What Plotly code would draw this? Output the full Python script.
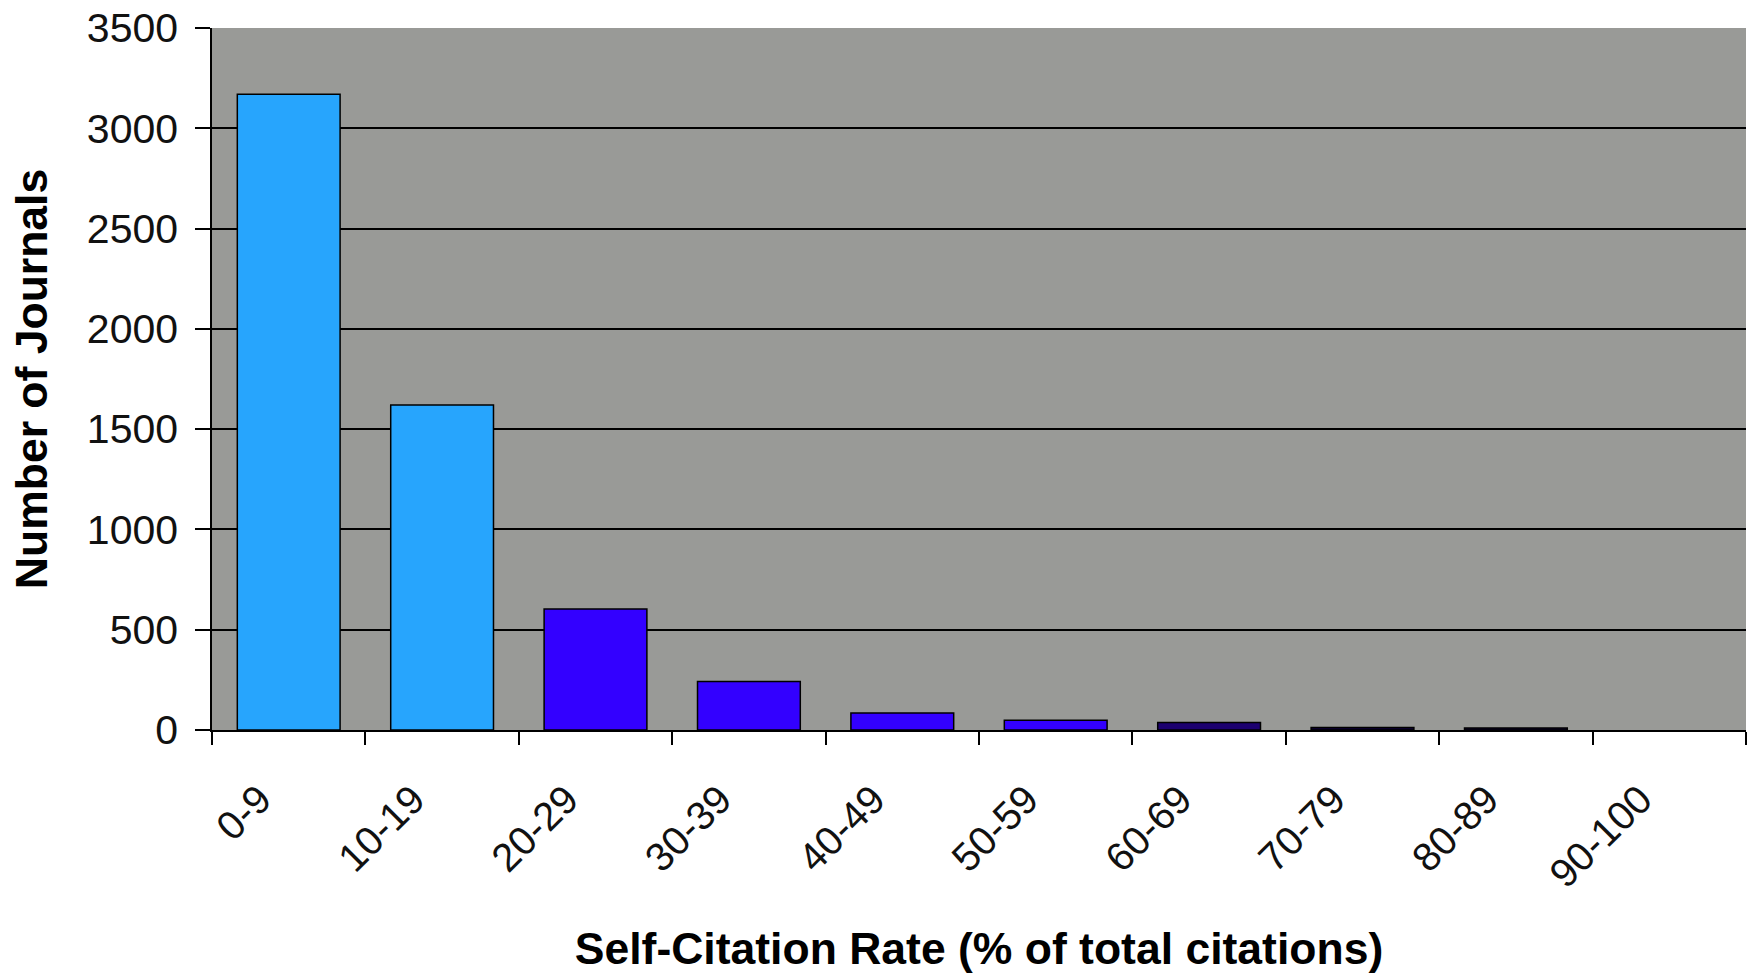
import plotly.graph_objects as go

categories = ["0-9", "10-19", "20-29", "30-39", "40-49", "50-59", "60-69", "70-79", "80-89", "90-100"]
journals = [3170, 1620, 603, 242, 85, 48, 37, 12, 10, 0]
bar_colors = ["#27A5FD", "#27A5FD", "#3300FF", "#3300FF", "#3300FF", "#3300FF",
              "#1C0070", "#0E0038", "#0E0038", "#0E0038"]
y_ticks = [0, 500, 1000, 1500, 2000, 2500, 3000, 3500]

FONT = "Liberation Sans, Arial, sans-serif"

fig = go.Figure()
fig.add_trace(go.Bar(
    x=categories, y=journals,
    marker=dict(color=bar_colors,
                line=dict(color="black", width=[1.5] * 9 + [0])),
    width=0.67,
))

fig.update_layout(
    width=1747, height=973,
    margin=dict(l=212, r=1, t=28, b=243),
    paper_bgcolor="white",
    plot_bgcolor="#999A97",
    showlegend=False,
    font=dict(family=FONT, color="black"),
)
fig.update_xaxes(
    type="category",
    range=[-0.5, 9.5],
    tickson="boundaries",
    ticks="outside", ticklen=13, tickwidth=1.5, tickcolor="black",
    tickangle=-45,
    tickfont=dict(size=40, family=FONT, color="#111"),
    showline=True, linecolor="black", linewidth=1.5,
    showgrid=False,
    title=dict(text="<b>Self-Citation Rate (% of total citations)</b>",
               font=dict(size=44.5, family=FONT, color="black"), standoff=39),
    ticklabelstandoff=28,
    ticklabelshift=-29,
    automargin=False,
)
fig.update_yaxes(
    range=[0, 3500],
    tickvals=y_ticks,
    ticks="outside", ticklen=15, tickwidth=1.5, tickcolor="black",
    tickfont=dict(size=41, family=FONT, color="#111"),
    showline=True, linecolor="black", linewidth=1.5,
    showgrid=True, gridcolor="black", gridwidth=1.5,
    zeroline=False,
    title=dict(text="<b>Number of Journals</b>",
               font=dict(size=44.5, family=FONT, color="black"), standoff=25),
    ticklabelstandoff=9,
    ticklabeloverflow="allow",
    automargin=False,
)

fig.write_html(
    "out.html",
    config={"displayModeBar": False},
    post_script="document.body.style.margin='0';document.body.style.overflow='hidden';",
)
